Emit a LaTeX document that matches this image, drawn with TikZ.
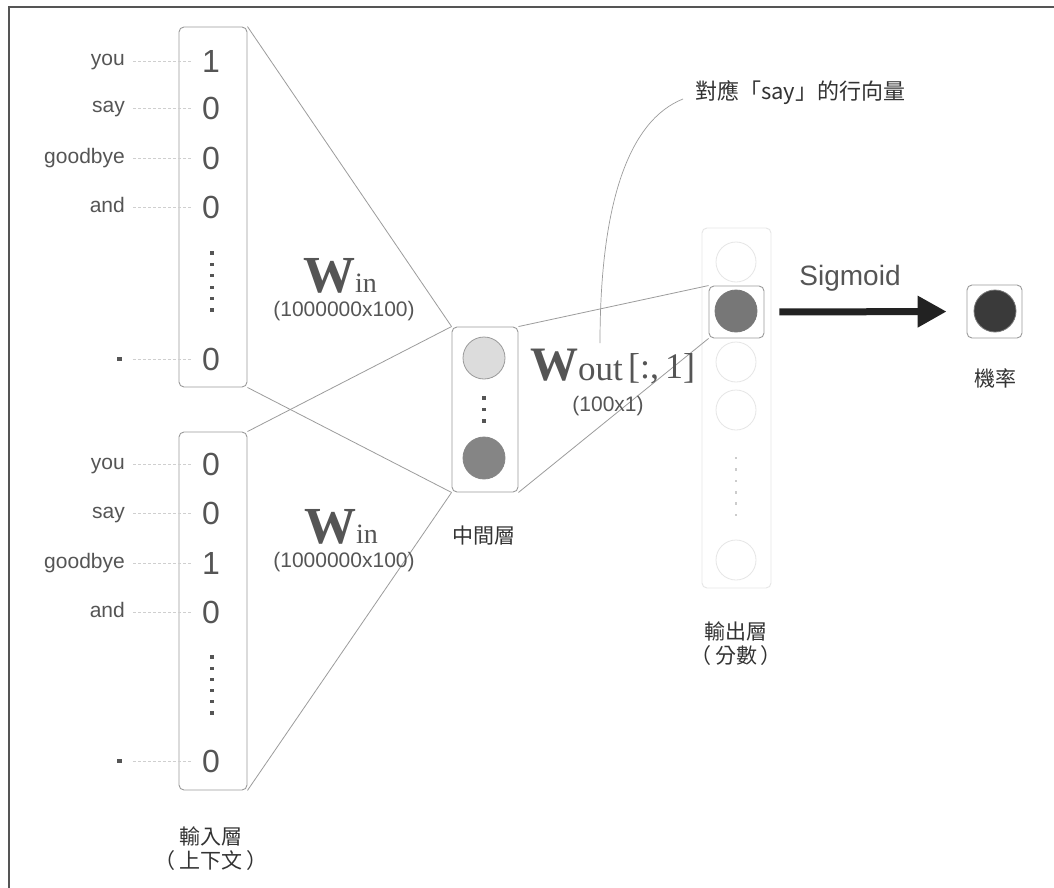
\documentclass[tikz,border=0pt]{standalone}
\usepackage{fontspec}
\setmainfont{Liberation Sans}
\newfontfamily\cjk{Noto Sans CJK TC}
\newfontfamily\serifw{Liberation Serif}
\usetikzlibrary{arrows.meta}
\definecolor{txt}{HTML}{555555}
\definecolor{cjktxt}{HTML}{333333}
\definecolor{boxc}{HTML}{9A9A9A}
\definecolor{linkc}{HTML}{9C9C9C}
\definecolor{guidec}{HTML}{CFCFCF}
\definecolor{faintc}{HTML}{E6E6E6}
\definecolor{faintdot}{HTML}{CCCCCC}
\definecolor{lightfill}{HTML}{DCDCDC}
\definecolor{midfill}{HTML}{858585}
\definecolor{hlfill}{HTML}{777777}
\definecolor{darkfill}{HTML}{3A3A3A}
\definecolor{arrowc}{HTML}{222222}
\definecolor{framec}{HTML}{555555}
\newcommand\setfs[1]{\fontsize{#1}{#1}\selectfont}
\begin{document}
\begin{tikzpicture}[x=1pt,y=-1pt,
  box/.style={draw=boxc, line width=0.9pt, rounded corners=5pt, inner sep=0pt},
  word/.style={anchor=east, inner sep=0pt, text=txt, font=\setfs{21}, text height=15pt, text depth=5pt},
  digit/.style={anchor=center, inner sep=0pt, text=txt, font=\setfs{32}, text height=23pt, text depth=0pt},
  guide/.style={draw=guidec, line width=0.7pt, dash pattern=on 3pt off 2pt},
  link/.style={draw=linkc, line width=0.8pt},
  dot/.style={fill=txt, minimum size=3.2pt, inner sep=0pt},
  fdot/.style={fill=faintdot, minimum size=2.6pt, inner sep=0pt},
  sq/.style={fill=txt, minimum size=4.5pt, inner sep=0pt},
  cjklabel/.style={font=\cjk\fontsize{21}{24}\selectfont, text=cjktxt, align=center, inner sep=0pt},
  small/.style={font=\setfs{21}, text=txt, inner sep=0pt},
  unit/.style={circle, inner sep=0pt, minimum size=42pt, line width=0.8pt},
  wlab/.style={anchor=base west, inner sep=0pt, text=txt}
]
\useasboundingbox (0,0) rectangle (1054,888);
\fill[white] (0,0) rectangle (1054,888);
\draw[framec, line width=1.5pt] (9,888) -- (9,7) -- (1054,7);

% ---------- top input box ----------
\node[box, minimum width=68pt, minimum height=360pt] (tbox) at (213,207) {};
\node[word] (tw1) at (125,61) {you};
\node[word] (tw2) at (125,108) {say};
\node[word] (tw3) at (125,158) {goodbye};
\node[word] (tw4) at (125,207) {and};
\node[sq] (tw5) at (119.5,359) {};
\node[digit] (td1) at (211,61) {1};
\node[digit] (td2) at (211,108) {0};
\node[digit] (td3) at (211,158) {0};
\node[digit] (td4) at (211,207) {0};
\node[digit] (td5) at (211,359) {0};
\foreach \i in {1,...,4}{\draw[guide, shorten <=8pt, shorten >=9pt] (tw\i.east) -- (td\i.west);}
\draw[guide, shorten <=11pt, shorten >=9pt] (tw5.east) -- (td5.west);
\foreach \k/\yy in {1/253,2/264.4,3/275.8,4/287.2,5/298.6,6/310}{\node[dot] (tdot\k) at (212,\yy) {};}

% ---------- bottom input box ----------
\node[box, minimum width=68pt, minimum height=358pt] (bbox) at (213,611) {};
\node[word] (bw1) at (125,464) {you};
\node[word] (bw2) at (125,513) {say};
\node[word] (bw3) at (125,563) {goodbye};
\node[word] (bw4) at (125,612) {and};
\node[sq] (bw5) at (119.5,761) {};
\node[digit] (bd1) at (211,464) {0};
\node[digit] (bd2) at (211,513) {0};
\node[digit] (bd3) at (211,563) {1};
\node[digit] (bd4) at (211,612) {0};
\node[digit] (bd5) at (211,761) {0};
\foreach \i in {1,...,4}{\draw[guide, shorten <=8pt, shorten >=9pt] (bw\i.east) -- (bd\i.west);}
\draw[guide, shorten <=11pt, shorten >=9pt] (bw5.east) -- (bd5.west);
\foreach \k/\yy in {1/657,2/668.2,3/679.4,4/690.6,5/701.8,6/713}{\node[dot] (bdot\k) at (212,\yy) {};}

\node[cjklabel] (inlbl) at (211,849) {輸入層\\（\hspace{4pt}上下文\hspace{4pt}）};

% ---------- middle (hidden) layer ----------
\node[box, minimum width=66pt, minimum height=165pt] (mid) at (485,409.5) {};
\node[unit, fill=lightfill, draw=boxc] (h1) at (484,358) {};
\node[unit, fill=midfill, draw=midfill] (h2) at (484,458) {};
\foreach \k/\yy in {1/398,2/409.5,3/421}{\node[dot] (mdot\k) at (484,\yy) {};}
\node[cjklabel] (midlbl) at (484,536) {中間層};

% ---------- output layer ----------
\node[box, draw=faintc, minimum width=69pt, minimum height=360pt] (ocol) at (736.5,408) {};
\node[unit, draw=faintc, minimum size=40pt] (o1) at (736,262) {};
\node[unit, draw=faintc, minimum size=40pt] (o3) at (736,362) {};
\node[unit, draw=faintc, minimum size=40pt] (o4) at (736,410) {};
\node[unit, draw=faintc, minimum size=40pt] (o5) at (736,560) {};
\foreach \k/\yy in {1/458,2/469.4,3/480.8,4/492.2,5/503.6,6/515}{\node[fdot] (odot\k) at (736,\yy) {};}
\node[box, fill=white, minimum width=55pt, minimum height=52pt] (hl) at (736.5,312) {};
\node[unit, fill=hlfill, draw=hlfill] (o2) at (736,311) {};
\node[cjklabel] (outlbl) at (736,644) {輸出層\\（\hspace{4pt}分數\hspace{4pt}）};

% ---------- connectors ----------
\draw[link] (tbox.north east) -- (mid.north west);
\draw[link] (tbox.south east) -- (mid.south west);
\draw[link] (bbox.north east) -- (mid.north west);
\draw[link] (bbox.south east) -- (mid.south west);
\draw[link] (mid.north east) -- (hl.north west);
\draw[link] (mid.south east) -- (hl.south west);

% ---------- weight labels ----------
\node[wlab] (win1) at (303,292) {{\serifw\bfseries\setfs{52}W}{\serifw\setfs{28}in}};
\node[small] (dim1) at (344,311) {(1000000x100)};
\node[wlab] (win2) at (304,543) {{\serifw\bfseries\setfs{52}W}{\serifw\setfs{28}in}};
\node[small] (dim2) at (344,562) {(1000000x100)};
\node[wlab] (wout) at (530,380) {{\serifw\bfseries\setfs{48}W}{\serifw\setfs{35}out}};
\node[wlab] (widx) at (628,378) {{\serifw\setfs{36}[:,\,1]}};
\node[small] (dim3) at (608,406) {(100x1)};

% ---------- annotation ----------
\node[anchor=west, inner sep=0pt, font=\cjk\setfs{22}, text=cjktxt] (ann) at (695,93) {對應「say」的行向量};
\coordinate (annA) at (683,99);
\coordinate (annB) at (600,343);
\draw[link, line width=0.7pt] (annA) .. controls (630,120) and (600,200) .. (annB);

% ---------- sigmoid & probability ----------
\node[box, minimum width=55pt, minimum height=53pt] (fin) at (994.5,311.5) {};
\node[unit, fill=darkfill, draw=hlfill] (p) at (995,311) {};
\draw[arrowc, line width=7pt, -{Triangle[length=29pt,width=30pt]}, shorten <=15pt, shorten >=20pt] (hl.east) -- (fin.west);
\node[inner sep=0pt, font=\setfs{28}, text=txt] (sig) at (850,278) {Sigmoid};
\node[cjklabel] (plbl) at (995,378) {機率};
\end{tikzpicture}
\end{document}
